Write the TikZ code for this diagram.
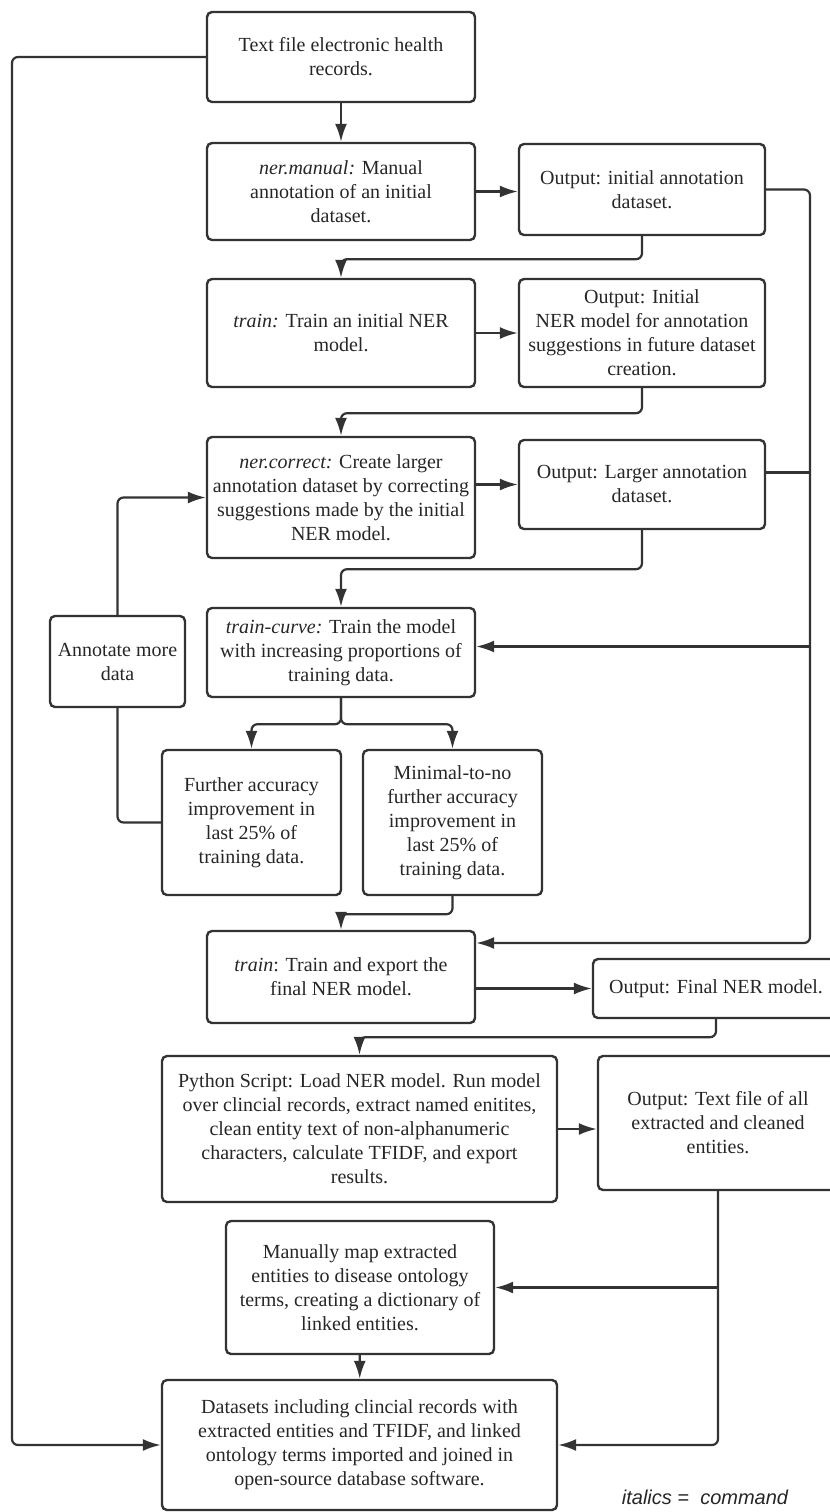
\documentclass[tikz,border=0pt]{standalone}
\usepackage{fontspec}
\setmainfont{Liberation Serif}
\newfontfamily\legendfont{Liberation Sans}
\usepackage{tikz}
\usetikzlibrary{arrows.meta}

\begin{document}
\begin{tikzpicture}[
    x=0.5pt, y=-0.5pt,
    box/.style={draw=black!80, line width=1.2pt, rounded corners=2.5pt, align=center, inner sep=2pt, text=black!85, font=\fontsize{10}{12}\selectfont},
    step box/.style={box, minimum width=134pt},
    out box/.style={box, minimum width=123pt},
    conn/.style={draw=black!80, line width=1.1pt, rounded corners=3pt},
    arrow/.style={conn, -{Latex[length=9pt, width=6pt]}}
]
\useasboundingbox (0,0) rectangle (830,1512);
\clip (0,0) rectangle (830,1512);

\node[step box, minimum height=45pt] (A) at (341,57) {Text file electronic health\\records.};
\node[step box, minimum height=48.5pt] (B) at (341,191.5) {\textit{ner.manual:} Manual\\annotation of an initial\\dataset.};
\node[out box, minimum height=45.5pt] (C) at (642,189.5) {Output: initial annotation\\dataset.};
\node[step box, minimum height=54pt] (D) at (341,333) {\textit{train:} Train an initial NER\\model.};
\node[out box, minimum height=54pt] (E) at (642,333) {Output: Initial\\NER model for annotation\\suggestions in future dataset\\creation.};
\node[step box, minimum height=60.5pt] (F) at (341,497.5) {\textit{ner.correct:} Create larger\\annotation dataset by correcting\\suggestions made by the initial\\NER model.};
\node[out box, minimum height=44.5pt] (G) at (642,484.5) {Output: Larger annotation\\dataset.};
\node[step box, minimum height=44.5pt] (H) at (341,652.5) {\textit{train-curve:} Train the model\\with increasing proportions of\\training data.};
\node[box, minimum width=67.5pt, minimum height=45.5pt] (I) at (117.5,661.5) {Annotate more\\data};
\node[box, minimum width=89.5pt, minimum height=72.5pt] (J) at (251.5,822.5) {Further accuracy\\improvement in\\last 25\% of\\training data.};
\node[box, minimum width=89.5pt, minimum height=72.5pt] (K) at (452.5,822.5) {Minimal-to-no\\further accuracy\\improvement in\\last 25\% of\\training data.};
\node[step box, minimum height=46pt] (L) at (341,977) {\textit{train}: Train and export the\\final NER model.};
\node[out box, minimum height=29.5pt] (M) at (716,988.5) {Output: Final NER model.};
\node[box, minimum width=197.5pt, minimum height=73pt] (N) at (359.5,1129) {Python Script: Load NER model. Run model\\over clincial records, extract named enitites,\\clean entity text of non-alphanumeric\\characters, calculate TFIDF, and export\\results.};
\node[box, minimum width=120pt, minimum height=67pt] (O) at (718,1123) {Output: Text file of all\\extracted and cleaned\\entities.};
\node[step box, minimum height=66.5pt] (P) at (360,1287.5) {Manually map extracted\\entities to disease ontology\\terms, creating a dictionary of\\linked entities.};
\node[box, minimum width=197.5pt, minimum height=65pt] (Q) at (359.5,1445) {Datasets including clincial records with\\extracted entities and TFIDF, and linked\\ontology terms imported and joined in\\open-source database software.};
\node[font=\legendfont\itshape\fontsize{10}{12}\selectfont, text=black!85] (key) at (705,1497) {italics = \ command};

\coordinate (rtop) at (810,189.5);
\coordinate (rbot) at (810,943);
\coordinate (ltop) at (12,57);

\draw[arrow] (A) -- (B);
\draw[arrow] (B.east) -- (B.east -| C.west);
\draw[arrow] (C.south) -- ++(0,23) -| (D.north);
\draw[arrow] (D) -- (E);
\draw[arrow] (E.south) -- ++(0,25) -| (F.north);
\draw[arrow] (F.east |- G.west) -- (G.west);
\draw[arrow] (G.south) -- ++(0,39) -| (H.north);
\draw[arrow] (C.east) -- (rtop) -- (rbot) -- (rbot -| L.east);
\draw[conn] ([yshift=6pt]G.east) -- ([yshift=6pt]G.east -| rtop);
\draw[arrow] ([yshift=3pt]H.east -| rtop) -- ([yshift=3pt]H.east);
\draw[arrow] (I.north) |- (F.west);
\draw[conn] (J.west) -| (I.south);
\draw[arrow] (H.south) -- ++(0,26) -| (J.north);
\draw[arrow] (H.south) -- ++(0,26) -| (K.north);
\draw[arrow] (K.south) -- ++(0,18) -| (L.north);
\draw[arrow] (L.east |- M.west) -- (M.west);
\draw[arrow] (M.south) -- ++(0,18) -| (N.north);
\draw[arrow] (N.east) -- (N.east -| O.west);
\draw[arrow] (O.south) |- (Q.east);
\draw[arrow] (O.south |- P.east) -- (P.east);
\draw[arrow] (P) -- (Q);
\draw[arrow] (A.west) -- (ltop) |- (Q.west);
\end{tikzpicture}
\end{document}
